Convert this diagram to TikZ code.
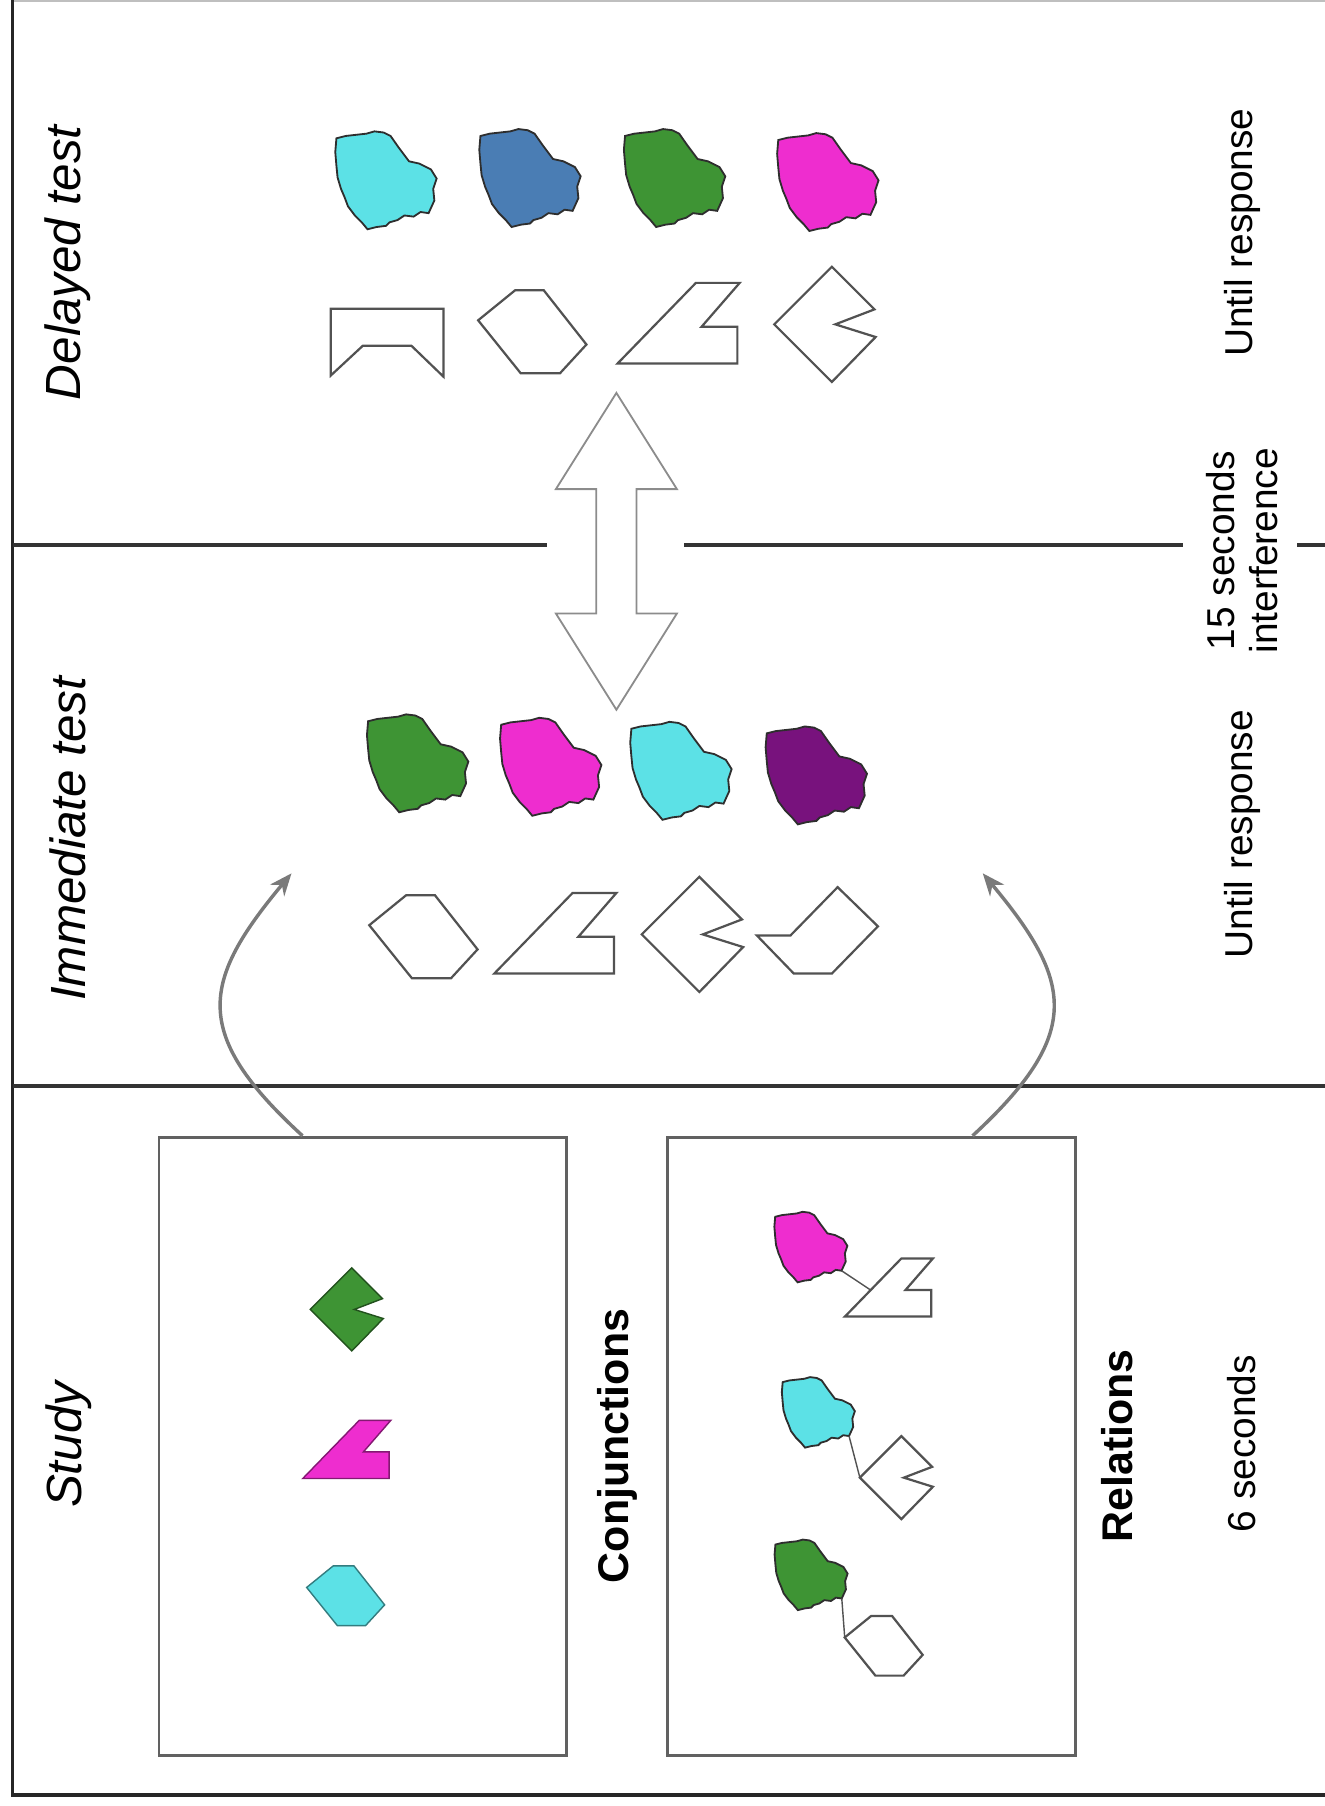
\documentclass[tikz,border=0pt]{standalone}
\usepackage{fontspec}
\setmainfont{Liberation Sans}
\usetikzlibrary{arrows.meta}

\definecolor{blobcyan}{HTML}{5CE1E6}
\definecolor{blobblue}{HTML}{4A7DB4}
\definecolor{blobgreen}{HTML}{3E9434}
\definecolor{blobpink}{HTML}{EE2DCF}
\definecolor{blobpurple}{HTML}{78127D}

\tikzset{
  blob/.pic={\draw[pic actions] (-44,-36) -- (-36,-38) -- (-27,-39) -- (-18,-40) -- (-11,-42) -- (-3,-41) -- (3,-38) -- (10,-28) -- (19,-16) -- (28,-14) -- (38,-9) -- (43,-1) -- (40,8) -- (41,18) -- (36,29) -- (29,28) -- (23,32) -- (15,31) -- (9,35) -- (2,37) -- (-1,40) -- (-9,41) -- (-17,43) -- (-22,37) -- (-28,31) -- (-34,23) -- (-37,15) -- (-40,8) -- (-43,-2) -- (-44,-12) -- (-45,-24) -- cycle;
    \coordinate (-stem) at (36,29);},
  hexa/.pic={\draw[pic actions] (-15,-36) -- (10,-36) -- (47,11) -- (24,36) -- (-10,36) -- (-47,-10) -- cycle;
    \coordinate (-in) at (-47,-10);},
  zeta/.pic={\draw[pic actions] (15,-35) -- (53,-35) -- (20,3) -- (51,3) -- (51,35) -- (-53,35) -- cycle;
    \coordinate (-in) at (-22,3);},
  notch/.pic={\draw[pic actions] (6,-50) -- (43,-13) -- (9,0) -- (44,11) -- (6,50) -- (-44,0) -- cycle;
    \coordinate (-in) at (-44,0);},
  bracket/.pic={\draw[pic actions] (-49,-29.5) -- (49,-29.5) -- (49,29.5) -- (21,2.5) -- (-21,2.5) -- (-49,28.5) -- cycle;},
  kite/.pic={\draw[pic actions] (17.5,-37.5) -- (52.5,-3.5) -- (12.5,37.5) -- (-20.5,37.5) -- (-52.5,4.5) -- (-23.5,4.5) -- cycle;},
  twoway/.pic={\draw[pic actions] (0,-137.5) -- (52.5,-54) -- (17.5,-54) -- (17.5,54) -- (52.5,54) -- (0,137.5) -- (-52.5,54) -- (-17.5,54) -- (-17.5,-54) -- (-52.5,-54) -- cycle;},
}

\begin{document}
\begin{tikzpicture}[x=0.1mm, y=-0.1mm,
    phase/.style={rotate=90, font=\fontsize{12.2}{14}\selectfont\itshape},
    cond/.style={rotate=90, font=\fontsize{10.6}{12}\selectfont\bfseries},
    timing/.style={rotate=90, align=center, font=\fontsize{9.6}{10.6}\selectfont},
    panel/.style={rectangle, draw=black!62, line width=0.7pt, minimum width=35.4mm, minimum height=53.7mm, inner sep=0pt},
    outline/.style={draw=black!68, line width=0.55pt},
    blobline/.style={draw=black!82, line width=0.45pt},
    divider/.style={draw=black!80, line width=0.9pt},
    link/.style={draw=black!68, line width=0.35pt},
    carry/.style={draw=black!52, line width=0.85pt, -{Stealth[length=5.5pt, width=4.5pt]}}
]
\useasboundingbox (0,0) rectangle (1150,1567.5);

% Rahmen und Trennlinien
\draw[black!25, line width=0.4pt] (11,0.8) -- (1150,0.8);
\draw[black!85, line width=0.9pt] (1150,1558) -- (11,1558) -- (11,0);
\draw[divider] (11,473) -- (475,473);
\draw[divider] (594,473) -- (1027,473);
\draw[divider] (1126,473) -- (1150,473);
\draw[divider] (11,942.5) -- (1150,942.5);

% Beschriftungen
\node[phase] (delayed) at (59,228) {Delayed test};
\node[phase] (immediate) at (59,728) {Immediate test};
\node[phase] (study) at (60,1254) {Study};
\node[timing] (waitlate) at (1078,202) {Until response};
\node[timing] (gap) at (1078,478) {15 seconds\\interference};
\node[timing] (waitnow) at (1078,724) {Until response};
\node[timing] (show) at (1078,1253) {6 seconds};

% Verzoegerter Test
\pic[blobline, fill=blobcyan] at (336,156) {blob};
\pic[blobline, fill=blobblue] at (461,154) {blob};
\pic[blobline, fill=blobgreen] at (586.5,154) {blob};
\pic[blobline, fill=blobpink] at (719.5,157.5) {blob};
\pic[outline] at (336,297.5) {bracket};
\pic[outline] at (462,288) {hexa};
\pic[outline] at (589,280.5) {zeta};
\pic[outline] at (716,281.5) {notch};

\pic[draw=black!45, line width=0.45pt, fill=white] at (535,478.5) {twoway};

% Sofortiger Test
\pic[blobline, fill=blobgreen] at (363.5,662) {blob};
\pic[blobline, fill=blobpink] at (479,665) {blob};
\pic[blobline, fill=blobcyan] at (592,668.5) {blob};
\pic[blobline, fill=blobpurple] at (709.5,672.5) {blob};
\pic[outline] at (367.5,813) {hexa};
\pic[outline] at (482,810) {zeta};
\pic[outline] at (601,811) {notch};
\pic[outline] at (709.5,807.5) {kite};

% Lernphase
\node[panel] (conj) at (315,1255.5) {};
\node[panel] (rel) at (756.5,1255.5) {};
\node[cond] (conjlabel) at (536,1255) {Conjunctions};
\node[cond] (rellabel) at (970,1255) {Relations};

\pic[scale=0.72, fill=blobgreen, draw=blobgreen!55!black, line width=0.35pt] at (301,1136.5) {notch};
\pic[scale=0.72, fill=blobpink, draw=blobpink!55!black, line width=0.35pt] at (301,1258) {zeta};
\pic[scale=0.72, fill=blobcyan, draw=blobcyan!55!black, line width=0.35pt] at (300,1385) {hexa};

\pic[scale=0.72, blobline, fill=blobpink] (pairb1) at (704.5,1082) {blob};
\pic[scale=0.72, outline] (pairs1) at (771.5,1117.5) {zeta};
\pic[scale=0.72, blobline, fill=blobcyan] (pairb2) at (711,1225.5) {blob};
\pic[scale=0.72, outline] (pairs2) at (778,1282.5) {notch};
\pic[scale=0.72, blobline, fill=blobgreen] (pairb3) at (704.7,1366.5) {blob};
\pic[scale=0.72, outline] (pairs3) at (767,1428.4) {hexa};

\draw[link] (pairb1-stem) -- (pairs1-in);
\draw[link] (pairb2-stem) -- (pairs2-in);
\draw[link] (pairb3-stem) -- (pairs3-in);

% Pfeile
\coordinate (lefttip) at (253,758);
\coordinate (righttip) at (853,758);
\draw[carry] (conj.101) .. controls (165.6,897) and (174.6,852) .. (lefttip);
\draw[carry] (rel.72) .. controls (940.4,897) and (931.4,852) .. (righttip);

\end{tikzpicture}
\end{document}
